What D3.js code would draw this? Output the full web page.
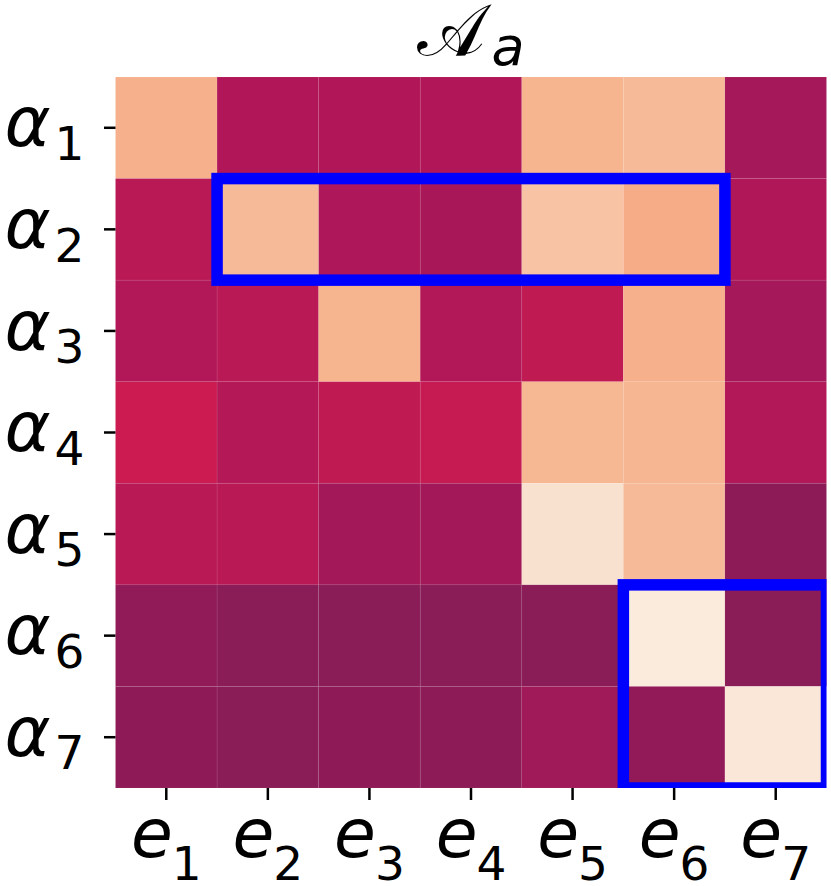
<!DOCTYPE html>
<html>
<head>
<meta charset="utf-8">
<script src="https://cdn.jsdelivr.net/npm/d3@7"></script>
<style>
  html, body { margin: 0; padding: 0; background: #fff; }
  svg { display: block; }
</style>
</head>
<body>
<div id="chart"></div>
<script>
// tick labels: symbol + subscript
const cols = ["1", "2", "3", "4", "5", "6", "7"];   // e_i
const rows = ["1", "2", "3", "4", "5", "6", "7"];   // alpha_i

// cell values (normalised 0..1), one array per row
const alpha1 = [0.850, 0.437, 0.437, 0.437, 0.857, 0.873, 0.410];
const alpha2 = [0.457, 0.873, 0.431, 0.417, 0.896, 0.839, 0.436];
const alpha3 = [0.441, 0.457, 0.857, 0.441, 0.474, 0.848, 0.410];
const alpha4 = [0.500, 0.448, 0.474, 0.488, 0.865, 0.862, 0.441];
const alpha5 = [0.457, 0.457, 0.405, 0.405, 0.974, 0.873, 0.351];
const alpha6 = [0.364, 0.347, 0.347, 0.347, 0.347, 1.000, 0.347];
const alpha7 = [0.356, 0.347, 0.357, 0.351, 0.398, 0.367, 0.990];

// highlighted blocks
const boxes = [
  { c0: "2", c1: "6", r0: "2", r1: "2" },
  { c0: "6", c1: "7", r0: "6", r1: "7" }
];

const matrix = [alpha1, alpha2, alpha3, alpha4, alpha5, alpha6, alpha7];

// rocket-like colormap
const rocket = d3.scaleLinear()
  .domain([0, 1/7, 2/7, 3/7, 0.5, 4/7, 5/7, 6/7, 1])
  .range(["#03051a", "#35193e", "#701f57", "#ad1759", "#cb1b50", "#e13342", "#f37651", "#f6b48f", "#faebdd"])
  .interpolate(d3.interpolateRgb)
  .clamp(true);

const W = 831, H = 886;
const gridLeft = 115.5, gridRight = 826.5, gridTop = 77, gridBottom = 788;

const svg = d3.select("#chart").append("svg")
  .attr("width", W)
  .attr("height", H);

const x = d3.scaleBand().domain(cols).range([gridLeft, gridRight]);
const y = d3.scaleBand().domain(rows).range([gridTop, gridBottom]);

const cells = [];
matrix.forEach((r, i) => r.forEach((v, j) => cells.push({ row: rows[i], col: cols[j], v: v })));

svg.append("defs").append("clipPath").attr("id", "grid-clip")
  .append("rect")
  .attr("x", gridLeft).attr("y", gridTop)
  .attr("width", gridRight - gridLeft).attr("height", gridBottom - gridTop);

svg.append("g")
  .selectAll("rect")
  .data(cells)
  .join("rect")
    .attr("x", d => x(d.col))
    .attr("y", d => y(d.row))
    .attr("width", x.bandwidth())
    .attr("height", y.bandwidth())
    .attr("fill", d => rocket(d.v))
    .attr("stroke", "rgba(255,255,255,0.07)")
    .attr("stroke-width", 0.8);

svg.append("g")
  .attr("clip-path", "url(#grid-clip)")
  .selectAll("rect")
  .data(boxes)
  .join("rect")
    .attr("x", d => x(d.c0))
    .attr("y", d => y(d.r0))
    .attr("width", d => x(d.c1) + x.bandwidth() - x(d.c0))
    .attr("height", d => y(d.r1) + y.bandwidth() - y(d.r0))
    .attr("fill", "none")
    .attr("stroke", "#0000ff")
    .attr("stroke-width", 11.5);

const mainSize = 68, subSize = 47;

// x axis
const xAxis = svg.append("g")
  .attr("transform", `translate(0,${gridBottom})`)
  .call(d3.axisBottom(x).tickSize(12).tickFormat(""));
xAxis.select(".domain").remove();
xAxis.selectAll(".tick line").attr("stroke", "#000").attr("stroke-width", 2.5);
xAxis.selectAll(".tick text").remove();
xAxis.selectAll(".tick").append("text")
  .attr("y", 68.5)
  .attr("text-anchor", "middle")
  .attr("fill", "#000")
  .attr("font-family", "DejaVu Sans")
  .each(function (d) {
    const t = d3.select(this);
    t.append("tspan").attr("font-size", mainSize).attr("font-style", "italic").text("e");
    t.append("tspan").attr("font-size", subSize).attr("dx", -1).attr("dy", 23).text(d);
  });

// y axis
const yAxis = svg.append("g")
  .attr("transform", `translate(${gridLeft},0)`)
  .call(d3.axisLeft(y).tickSize(11.5).tickFormat(""));
yAxis.select(".domain").remove();
yAxis.selectAll(".tick line").attr("stroke", "#000").attr("stroke-width", 2.5);
yAxis.selectAll(".tick text").remove();
yAxis.selectAll(".tick").append("text")
  .attr("x", -31)
  .attr("y", 18.7)
  .attr("text-anchor", "end")
  .attr("fill", "#000")
  .attr("font-family", "DejaVu Sans")
  .each(function (d) {
    const t = d3.select(this);
    t.append("tspan").attr("font-size", 70).attr("font-style", "italic").text("α");
    t.append("tspan").attr("font-size", subSize).attr("dx", 4).attr("dy", 13.5).text(d);
  });

// title
const title = svg.append("text")
  .attr("x", (gridLeft + gridRight) / 2)
  .attr("y", 55)
  .attr("text-anchor", "middle")
  .attr("fill", "#000")
  .attr("font-family", "DejaVu Serif, DejaVu Sans");
title.append("tspan").attr("font-size", 72).text("𝒜");
title.append("tspan").attr("font-size", 54).attr("font-style", "italic")
  .attr("font-family", "DejaVu Sans").attr("dx", 6).attr("dy", 10).text("a");
</script>
</body>
</html>
